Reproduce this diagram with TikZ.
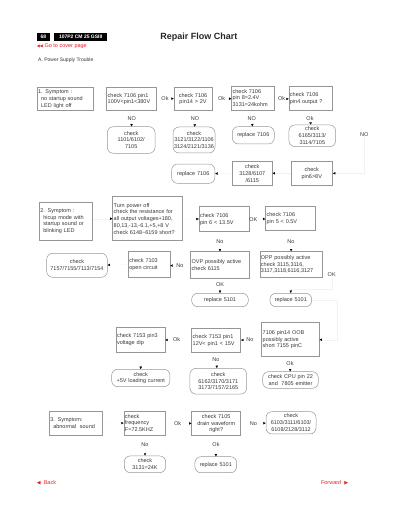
\documentclass[tikz,border=0pt]{standalone}
\usepackage{fontspec}
\setmainfont{Liberation Sans}
\newfontfamily\symfont{DejaVu Sans}
\usetikzlibrary{arrows.meta}
\definecolor{bordgray}{RGB}{150,150,150}
\definecolor{txtgray}{RGB}{55,55,55}
\definecolor{navred}{RGB}{230,30,40}
\newcommand{\boxfont}{\fontsize{5.5}{6.8}\selectfont}

\begin{document}
\begin{tikzpicture}[x=1pt, y=-1pt,
    box/.style={draw=bordgray, line width=0.5pt, inner sep=1pt, font=\boxfont,
      text=txtgray, align=left},
    rbox/.style={box, rounded corners=6pt, align=center},
    lbl/.style={font=\boxfont, text=txtgray, inner sep=0.5pt},
    arr/.style={-{Latex[length=2.4pt, width=2.4pt, color=black]}, draw=black!5,
      line width=0.15pt},
    tag/.style={fill=black, text=white, font=\fontsize{5}{6}\selectfont\bfseries,
      inner sep=1pt, minimum height=8pt},
    nav/.style={font=\fontsize{5.5}{6.5}\selectfont, text=navred, inner sep=0pt}
  ]
  \useasboundingbox (0,0) rectangle (400,518);

  % header
  \node[tag, minimum width=13pt] (pg) at (43.3,36.7) {68};
  \node[tag, minimum width=53pt] (model) at (80.7,36.7) {107P2 CM 25 GSIII};
  \node[font=\fontsize{9}{10}\selectfont\bfseries, text=black!85] (title) at (198.8,37.3) {Repair Flow Chart};
  \node[nav, anchor=west] (cover) at (36.7,45.7) {{\symfont\fontsize{4}{5}\selectfont ◀◀}\ Go to cover page};
  \node[font=\fontsize{5}{6}\selectfont, text=black!80, anchor=west, inner sep=0pt] (sect) at (38,60) {A. Power Supply Trouble};

  % symptom 1
  \node[box, text width=53.7pt, minimum height=23pt] (sym1) at (65,99) {1. Symptom :\\\hspace*{3pt}no startup sound\\\hspace*{3pt}LED light off};
  \node[box, text width=48pt, minimum height=23pt] (p1) at (131.7,99) {check 7106 pin1\\100V<pin1<380V};
  \node[lbl] (ok1) at (165,98.5) {Ok};
  \node[box, text width=36pt, minimum height=23pt, align=center] (p14) at (193,99) {check 7106\\pin14 > 2V};
  \node[lbl] (ok2) at (221.7,99) {Ok};
  \node[box, text width=40.3pt, minimum height=24pt] (p8) at (252.8,98) {check 7106\\pin 8=2.4V\\3131=24kohm};
  \node[lbl] (ok3) at (281.7,99) {Ok};
  \node[box, text width=41.7pt, minimum height=24pt] (p4) at (310.8,98.7) {check 7106\\pin4 output ?};

  \node[lbl] (no1) at (131.7,118.3) {NO};
  \node[rbox, text width=45.7pt, minimum height=26.6pt] (r1) at (131.2,140) {check\\1101/6102/\\7105};
  \node[lbl] (no2) at (195,118.3) {NO};
  \node[rbox, text width=40pt, minimum height=26pt] (r2) at (194,140) {check\\3121/3122/1106\\3124/2121/3136};
  \node[lbl] (no3) at (251.7,118.3) {NO};
  \node[rbox, text width=40pt, minimum height=17.3pt] (r3) at (253.3,135.3) {replace 7106};
  \node[lbl] (ok4) at (310,118.3) {Ok};
  \node[rbox, text width=44.7pt, minimum height=21.7pt] (r4) at (312.3,135.8) {check\\6165/3113/\\3114/7105};
  \node[lbl] (no4) at (364.3,134.3) {NO};

  \node[rbox, text width=41.3pt, minimum height=19.3pt] (r5) at (193.3,173.7) {replace 7106};
  \node[box, text width=38pt, minimum height=23.3pt, align=center] (c3128) at (252.3,173.3) {check\\3128/6107\\/6115};
  \node[box, text width=39.7pt, minimum height=23.3pt, align=center] (c68) at (311.8,173.3) {check\\pin6>8V};

  \draw[arr] (ok1) -- (p14);
  \draw[arr] (ok2) -- (p8);
  \draw[arr] (ok3) -- (p4);
  \draw[arr] (no1) -- (r1);
  \draw[arr] (no2) -- (r2);
  \draw[arr] (no3) -- (r3);
  \draw[arr] (ok4) -- (r4);
  \draw[arr] (no4) |- (c68);
  \draw[arr] (c68) -- (c3128);
  \draw[arr] (c3128) -- (r5);

  % symptom 2
  \node[box, text width=51.4pt, minimum height=37.7pt] (sym2) at (66,221.2) {2. Symptom :\\\hspace*{3pt}hicup mode with\\\hspace*{3pt}startup sound or\\\hspace*{3pt}blinking LED};
  \node[box, text width=67.6pt, minimum height=44pt] (pwr) at (147.5,218.7) {Turn power off\\check the resistance for\\all output voltages+180,\\80,13,-13,-6.1,+5,+8 V\\check 6148\textasciitilde6159 short?};
  \node[box, text width=48.3pt, minimum height=25pt] (c6) at (224.2,219.2) {check 7106\\pin 6 < 13.5V};
  \node[lbl] (okc) at (253.3,219.3) {OK};
  \node[box, text width=47.3pt, minimum height=23.3pt] (c5) at (290.3,218.3) {check 7106\\pin 5 < 0.5V};
  \node[lbl] (no5) at (220,241.7) {No};
  \node[lbl] (no6) at (291,241.7) {No};
  \node[box, text width=56.3pt, minimum height=26.6pt] (ovp) at (219.8,265) {OVP possibly active\\check 6115};
  \node[box, text width=60.7pt, minimum height=25.6pt] (opp) at (291.3,264.5) {OPP possibly active\\check 3115,3116,\\3117,3118,6116,3127};
  \node[lbl] (okr) at (331.7,275) {OK};
  \node[lbl] (no7) at (180,266) {No};
  \node[box, text width=39.7pt, minimum height=25.6pt] (c7103) at (149.2,264.5) {check 7103\\open circuit};
  \node[rbox, text width=58.6pt, minimum height=24pt] (r7157) at (77,265.3) {check\\7157/7155/7113/7154};
  \node[lbl] (ok5) at (220,285) {OK};
  \node[rbox, text width=54.6pt, minimum height=13.4pt] (r5a) at (220,300) {replace 5101};
  \node[rbox, text width=39.7pt, minimum height=13.4pt] (r5b) at (290.8,300) {replace 5101};

  \draw[arr] (sym2.east |- pwr.west) -- (pwr.west);
  \draw[arr] (pwr) -- (c6);
  \draw[arr] (okc) -- (c5);
  \draw[arr] (no5) -- (ovp);
  \draw[arr] (no6) -- (opp);
  \draw[arr] (no7) -- (c7103);
  \draw[arr] (c7103) -- (r7157);
  \draw[arr] (ok5) -- (r5a);
  \draw[arr] (okr.south) |- ([yshift=4pt]r5b.north) -- (r5b.north);

  \node[box, text width=47pt, minimum height=25pt] (c7153b) at (140.5,339.8) {check 7153 pin3\\voltage dip};
  \node[lbl] (ok6) at (176.7,340) {Ok};
  \node[box, text width=47pt, minimum height=24pt] (c7153a) at (216.2,340.3) {check 7153 pin1\\12V< pin1 < 15V};
  \node[lbl] (no8) at (250,340) {No};
  \node[box, text width=55.6pt, minimum height=34pt] (oob) at (290.5,339.7) {7106 pin14 OOB\\possibly active\\short 7155 pinC};
  \node[lbl] (no9) at (216,359.3) {No};
  \node[rbox, text width=54.7pt, minimum height=25.7pt] (r6162) at (218.3,381.2) {check\\6162/3170/3171\\3173/7157/2165};
  \node[lbl] (ok7) at (290,363.3) {Ok};
  \node[rbox, text width=53.6pt, minimum height=16.6pt] (rcpu) at (290.5,380) {check CPU pin 22\\and\ \ 7805 emitter};
  \node[rbox, text width=56.3pt, minimum height=17.4pt] (r5v) at (140.8,378) {check\\+5V loading current};

  \draw[arr] (r5b.east) -- ++(25,0) |- (oob.east);
  \draw[arr] (no8) -- (c7153a);
  \draw[arr] (ok6) -- (c7153b);
  \draw[arr] (c7153b) -- (r5v);
  \draw[arr] (no9) -- (r6162);
  \draw[arr] (ok7) -- (rcpu);

  % symptom 3
  \node[box, text width=51.4pt, minimum height=24.7pt] (sym3) at (76,423.3) {3. Symptom:\\\hspace*{3pt}abnormal\ \ sound};
  \node[box, text width=39.7pt, minimum height=24pt] (freq) at (144.8,423) {check\\frequency\\F=72.5KHZ};
  \node[lbl] (ok8) at (177.7,423.3) {Ok};
  \node[box, text width=47pt, minimum height=24pt, align=center] (drain) at (216.2,423.7) {check 7105\\drain waveform\\right?};
  \node[lbl] (no10) at (253.3,423.3) {No};
  \node[rbox, text width=48pt, minimum height=22.3pt] (r6103) at (291,422.8) {check\\6103/3111/6103/\\6108/2128/3112};
  \node[lbl] (no11) at (145,445) {No};
  \node[rbox, text width=39.4pt, minimum height=16.7pt] (r3131) at (145,464.3) {check\\3131=24K};
  \node[lbl] (ok9) at (216,444.3) {Ok};
  \node[rbox, text width=39.7pt, minimum height=16pt] (r5c) at (215.8,464.7) {replace 5101};

  \draw[arr] (sym3) -- (freq);
  \draw[arr] (ok8) -- (drain);
  \draw[arr] (no10) -- (r6103);
  \draw[arr] (no11) -- (r3131);
  \draw[arr] (ok9) -- (r5c);

  % footer
  \node[nav, anchor=west] (back) at (36.7,482.7) {{\symfont\fontsize{5}{6}\selectfont ◀}\ \ Back};
  \node[nav, anchor=east] (fwd) at (348.3,482.7) {Forward\ \ {\symfont\fontsize{5}{6}\selectfont ▶}};
\end{tikzpicture}
\end{document}
